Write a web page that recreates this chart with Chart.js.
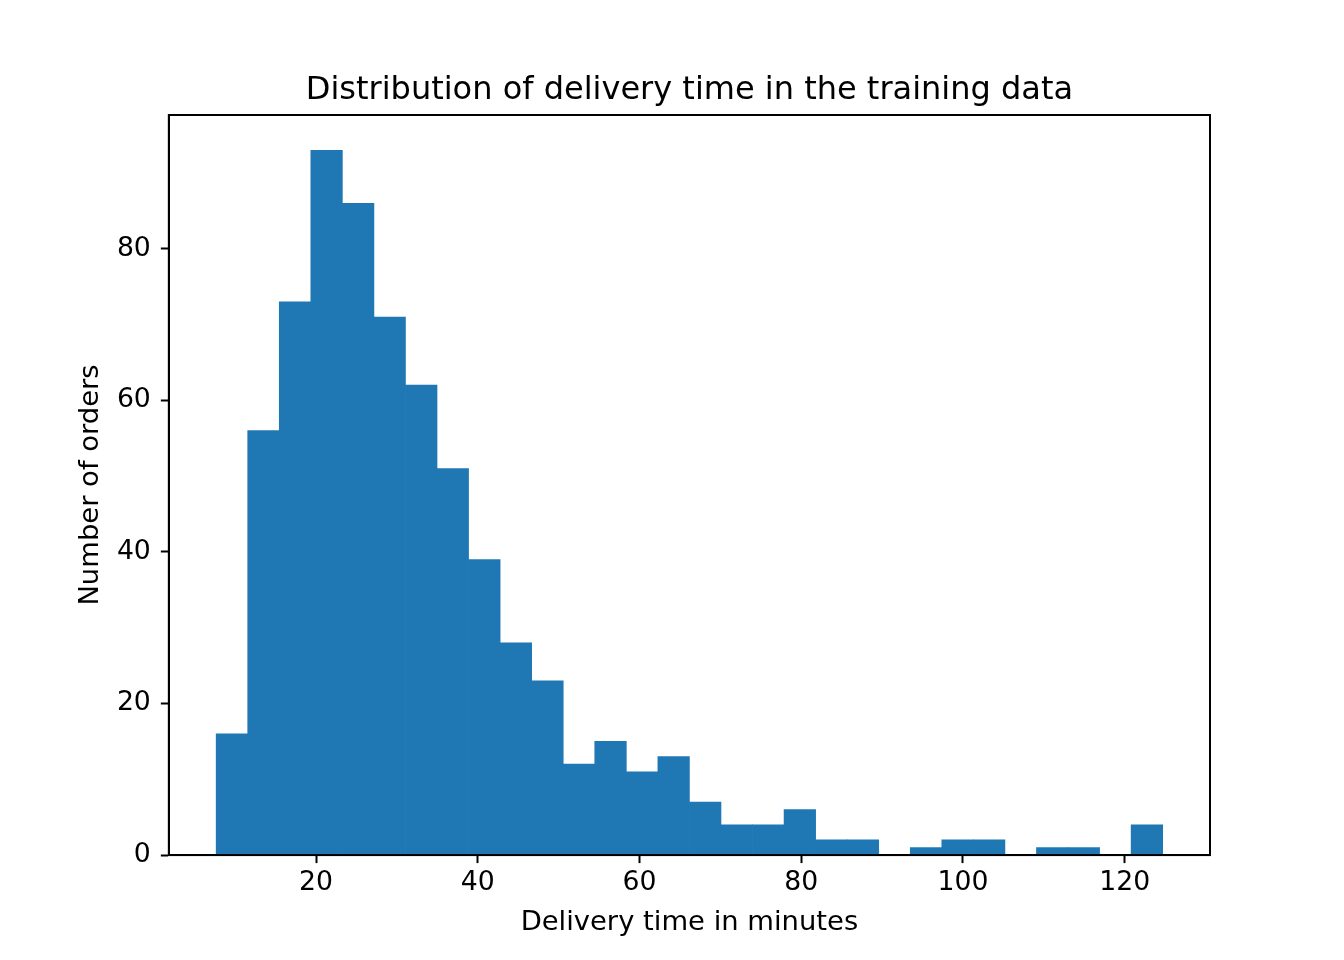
<!DOCTYPE html>
<html>
<head>
<meta charset="utf-8">
<script src="https://cdn.jsdelivr.net/npm/chart.js@4.4.1/dist/chart.umd.min.js"></script>
<style>
  html, body { margin: 0; padding: 0; background: #ffffff; }
  #c { display: block; }
</style>
</head>
<body>
<canvas id="c" width="1344" height="960"></canvas>
<script>
// ---- data ----
const binStart = 7.64;      // left edge of first bin (minutes)
const binWidth = 3.902;     // bin width (minutes)
const counts = [16, 56, 73, 93, 86, 71, 62, 51, 39, 28, 23, 12, 15, 11, 13, 7, 4, 4, 6, 2, 2, 0, 1, 2, 2, 0, 1, 1, 0, 4];
const xTicks = [20, 40, 60, 80, 100, 120];
const yTicks = [0, 20, 40, 60, 80];
const titleText = 'Distribution of delivery time in the training data';
const xLabel = 'Delivery time in minutes';
const yLabel = 'Number of orders';

const binEnd = binStart + binWidth * counts.length;
const span = binEnd - binStart;
const xMin = binStart - 0.05 * span;
const xMax = binEnd + 0.05 * span;
const yMax = Math.max(...counts) * 1.05;

const points = counts.map((c, i) => ({ x: binStart + binWidth * (i + 0.5), y: c }));

const FONT = 'DejaVu Sans';
const TICK_SIZE = 26.7;
const LABEL_SIZE = 27.4;
const TITLE_SIZE = 32;

const framePlugin = {
  id: 'frame',
  afterDatasetsDraw(chart) {
    const { ctx, chartArea: a } = chart;
    ctx.save();
    ctx.strokeStyle = '#000';
    ctx.lineWidth = 2;
    ctx.strokeRect(a.left, a.top, a.right - a.left, a.bottom - a.top);
    ctx.restore();
  },
  afterDraw(chart) {
    const { ctx, chartArea: a } = chart;
    ctx.save();
    ctx.fillStyle = '#000';
    ctx.font = `normal ${TITLE_SIZE}px "${FONT}"`;
    ctx.textAlign = 'center';
    ctx.textBaseline = 'alphabetic';
    ctx.fillText(titleText, (a.left + a.right) / 2, a.top - 16);
    ctx.restore();
  }
};

new Chart(document.getElementById('c'), {
  type: 'bar',
  data: {
    datasets: [{
      data: points,
      backgroundColor: '#1f77b4',
      borderWidth: 0,
      barPercentage: 1.0,
      categoryPercentage: 1.0
    }]
  },
  options: {
    responsive: false,
    animation: false,
    devicePixelRatio: 1,
    layout: { padding: { left: 74, right: 134, top: 115, bottom: 21 } },
    plugins: {
      legend: { display: false },
      tooltip: { enabled: false },
      title: { display: false }
    },
    scales: {
      x: {
        type: 'linear',
        min: xMin,
        max: xMax,
        offset: false,
        afterBuildTicks(scale) { scale.ticks = xTicks.map(v => ({ value: v })); },
        ticks: {
          color: '#000',
          font: { family: FONT, size: TICK_SIZE },
          padding: 4,
          maxRotation: 0,
          autoSkip: false
        },
        grid: {
          display: true,
          offset: false,
          drawOnChartArea: false,
          drawTicks: true,
          tickLength: 8,
          tickWidth: 2,
          tickColor: '#000'
        },
        border: { display: true, color: '#000', width: 2 },
        title: {
          display: true,
          text: xLabel,
          color: '#000',
          font: { family: FONT, size: LABEL_SIZE },
          padding: { top: 3, bottom: 0 }
        }
      },
      y: {
        type: 'linear',
        min: 0,
        max: yMax,
        afterBuildTicks(scale) { scale.ticks = yTicks.map(v => ({ value: v })); },
        ticks: {
          color: '#000',
          font: { family: FONT, size: TICK_SIZE },
          padding: 10,
          autoSkip: false
        },
        grid: {
          display: true,
          offset: false,
          drawOnChartArea: false,
          drawTicks: true,
          tickLength: 8,
          tickWidth: 2,
          tickColor: '#000'
        },
        border: { display: true, color: '#000', width: 2 },
        title: {
          display: true,
          text: yLabel,
          color: '#000',
          font: { family: FONT, size: LABEL_SIZE },
          padding: { top: 0, bottom: 0 }
        }
      }
    }
  },
  plugins: [framePlugin]
});
</script>
</body>
</html>
